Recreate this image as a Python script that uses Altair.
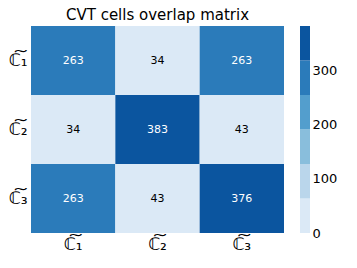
import altair as alt
import pandas as pd

labels = ["\u2102\u0360\u2081", "\u2102\u0360\u2082", "\u2102\u0360\u2083"]
matrix = [
    [263, 34, 263],
    [34, 383, 43],
    [263, 43, 376],
]
palette = ["#dbe9f6", "#bad6eb", "#89bedc", "#539ecd", "#2b7bba", "#0b559f"]
bin_edges = [0, 63.8, 127.7, 191.5, 255.3, 319.2, 383]
cbar_ticks = [0, 100, 200, 300]

rows = []
for i, r in enumerate(labels):
    for j, c in enumerate(labels):
        rows.append({"row": r, "col": c, "v": matrix[i][j]})
df = pd.DataFrame(rows)

color_scale = alt.Scale(type="quantize", domain=[0, 383], range=palette)

base = alt.Chart(df).encode(
    x=alt.X("col:N", sort=labels, title=None,
            axis=alt.Axis(labelAngle=0, ticks=False, domain=False, labelFontSize=17,
                          labelFont="DejaVu Sans", labelPadding=3, labelColor="#000")),
    y=alt.Y("row:N", sort=labels, title=None,
            axis=alt.Axis(ticks=False, domain=False, labelFontSize=17,
                          labelFont="DejaVu Sans", labelPadding=4, labelColor="#000")),
)
heat = base.mark_rect().encode(color=alt.Color("v:Q", scale=color_scale, legend=None))
text = base.mark_text(fontSize=11, font="DejaVu Sans").encode(
    text="v:Q",
    color=alt.condition(alt.datum.v > 200, alt.value("white"), alt.value("black")),
)
hm = (heat + text).properties(
    width=253, height=207,
    title=alt.TitleParams("CVT cells overlap matrix", fontSize=15, font="DejaVu Sans",
                          fontWeight="normal", color="#000", offset=3),
)

cb_df = pd.DataFrame({
    "lo": bin_edges[:-1],
    "hi": bin_edges[1:],
    "c": palette,
})
cbar = alt.Chart(cb_df).mark_rect().encode(
    y=alt.Y("lo:Q", scale=alt.Scale(domain=[0, 383], nice=False), title=None,
            axis=alt.Axis(orient="right", values=cbar_ticks, ticks=False, domain=False,
                          grid=False, labelFontSize=13, labelFont="DejaVu Sans",
                          labelColor="#000", labelPadding=2)),
    y2="hi:Q",
    color=alt.Color("c:N", scale=None),
).properties(width=10, height=207)

chart = alt.hconcat(hm, cbar, spacing=16).configure_view(stroke=None).properties(padding=0)
chart.save("out.html", embed_options={"renderer": "svg", "actions": False})
